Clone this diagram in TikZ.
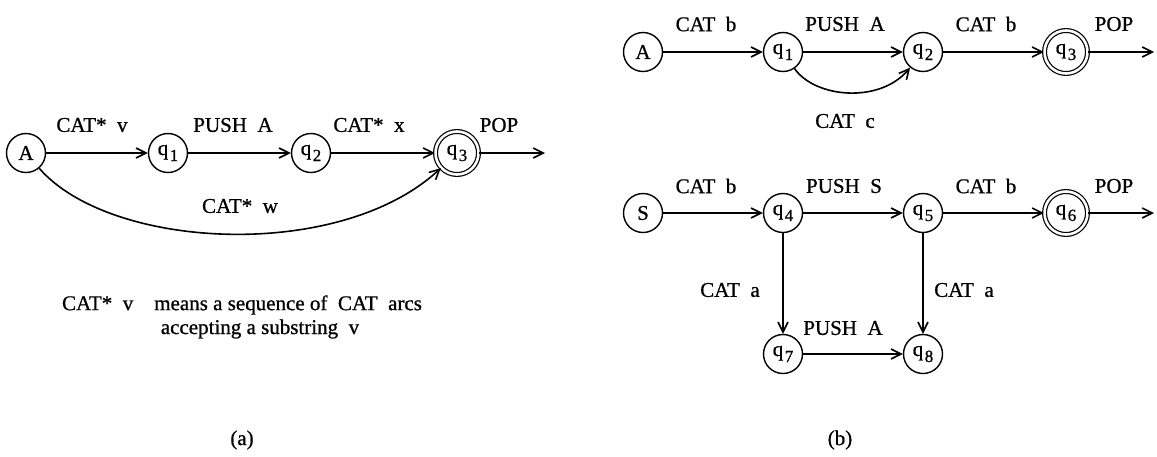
\documentclass[tikz,border=0pt]{standalone}
\usepackage{fontspec}
\setmainfont{Liberation Serif}[FakeBold=0.8]
\usetikzlibrary{arrows.meta}
% state name with a lowered index, e.g. q 1
\newcommand\qsub[1]{q\kern1.5pt\raisebox{-6pt}{\fontsize{17}{17}\selectfont #1}}
\begin{document}
\begin{tikzpicture}[x=1pt,y=-1pt,
  every node/.style={font=\fontsize{21}{25}\selectfont},
  state/.style={circle,draw,line width=1.4pt,minimum size=39pt,inner sep=0pt},
  final/.style={circle,draw,line width=1.2pt,double,double distance=2.6pt,minimum size=43pt,inner sep=0pt},
  arc/.style={line width=1.6pt,-{Straight Barb[length=10pt,width=10pt]}},
  lbl/.style={inner sep=0pt}]
\useasboundingbox (0,0) rectangle (1157,456);

% ---------- (a) ----------
\node[state] (aA) at (26,153) {A};
\node[state] (a1) at (168,153) {\qsub{1}};
\node[state] (a2) at (311,153) {\qsub{2}};
\node[final] (a3) at (457,153) {\qsub{3}};
\coordinate (aend) at (545,153);

\draw[arc] (aA) -- (a1);
\draw[arc] (a1) -- (a2);
\draw[arc] (a2) -- (a3);
\draw[arc] (a3) -- (aend);
\draw[arc] (aA) .. controls (110,250) and (340,262) .. (a3);

\node[lbl] (la1) at (92,125) {CAT*\ \ v};
\node[lbl] (la2) at (233,125) {PUSH\ \ A};
\node[lbl] (la3) at (369,125) {CAT*\ \ x};
\node[lbl] (la4) at (499,125) {POP};
\node[lbl] (la5) at (240,206) {CAT*\ \ w};

\node[lbl] (note1) at (242,305) {CAT*\ \ v\ \ \ \ means a sequence of\ \ CAT\ \ arcs};
\node[lbl] (note2) at (260,329) {accepting a substring\ \ v};
\node[lbl] (capa) at (242,440) {(a)};

% ---------- (b), upper net ----------
\node[state] (bA) at (643,52) {A};
\node[state] (b1) at (783,52) {\qsub{1}};
\node[state] (b2) at (923,52) {\qsub{2}};
\node[final] (b3) at (1066,52) {\qsub{3}};
\coordinate (bend) at (1154,52);

\draw[arc] (bA) -- (b1);
\draw[arc] (b1) -- (b2);
\draw[arc] (b2) -- (b3);
\draw[arc] (b3) -- (bend);
\draw[arc] (b1) .. controls (815,98) and (880,104) .. (b2);

\node[lbl] (lb1) at (706,24) {CAT\ \ b};
\node[lbl] (lb2) at (845,24) {PUSH\ \ A};
\node[lbl] (lb3) at (986,24) {CAT\ \ b};
\node[lbl] (lb4) at (1114,24) {POP};
\node[lbl] (lb5) at (845,121) {CAT\ \ c};

% ---------- (b), lower net ----------
\node[state] (cS) at (643,213) {S};
\node[state] (c4) at (783,213) {\qsub{4}};
\node[state] (c5) at (923,213) {\qsub{5}};
\node[final] (c6) at (1066,213) {\qsub{6}};
\node[state] (c7) at (783,354) {\qsub{7}};
\node[state] (c8) at (923,354) {\qsub{8}};
\coordinate (cend) at (1154,213);

\draw[arc] (cS) -- (c4);
\draw[arc] (c4) -- (c5);
\draw[arc] (c5) -- (c6);
\draw[arc] (c6) -- (cend);
\draw[arc] (c4) -- (c7);
\draw[arc] (c5) -- (c8);
\draw[arc] (c7) -- (c8);

\node[lbl] (lc1) at (706,186) {CAT\ \ b};
\node[lbl] (lc2) at (844,186) {PUSH\ \ S};
\node[lbl] (lc3) at (986,186) {CAT\ \ b};
\node[lbl] (lc4) at (1114,186) {POP};
\node[lbl] (lc5) at (730,290) {CAT\ \ a};
\node[lbl] (lc6) at (964,290) {CAT\ \ a};
\node[lbl] (lc7) at (843,328) {PUSH\ \ A};
\node[lbl] (capb) at (840,440) {(b)};
\end{tikzpicture}
\end{document}
